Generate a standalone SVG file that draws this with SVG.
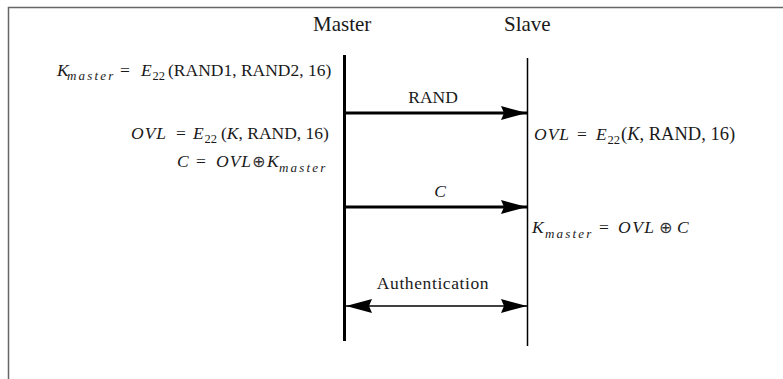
<svg xmlns="http://www.w3.org/2000/svg" width="783" height="379" viewBox="0 0 783 379">
<defs>
<style>
text{font-family:"Liberation Serif","Times New Roman",serif;fill:#1a1a1a}
.t{font-size:17.5px}
.h{font-size:21px}
.i{font-style:italic}
.s{font-size:12.5px}
.ms{font-size:13px;font-style:italic;letter-spacing:2.2px}
.op{font-family:"DejaVu Sans",sans-serif;font-size:16px;fill:#333}
.life{stroke:#000;fill:none}
.msg{stroke:#000;fill:none}
</style>
<marker id="ah" viewBox="0 0 26 14" refX="26" refY="7" markerWidth="26" markerHeight="14" markerUnits="userSpaceOnUse" orient="auto-start-reverse">
<path d="M0,0 L26,7 L0,14 L3,7 Z" fill="#000"/>
</marker>
</defs>
<rect width="783" height="379" fill="#fff"/>
<path d="M8.5,379 V7.5 H783" fill="none" stroke="#666" stroke-width="1.5"/>

<g id="master">
<text class="h" x="313" y="31">Master</text>
<line class="life" x1="344.5" y1="55" x2="344.5" y2="341" stroke-width="3"/>
</g>
<g id="slave">
<text class="h" x="504" y="31">Slave</text>
<line class="life" x1="527.5" y1="58" x2="527.5" y2="346" stroke-width="1.5"/>
</g>

<g id="master-kmaster">
<text class="t" y="76"><tspan class="i" x="57">K</tspan><tspan class="ms" x="67" y="80">master</tspan><tspan x="120" y="76">=</tspan><tspan class="i" x="141">E</tspan><tspan class="s" x="152.5" y="80">22</tspan><tspan x="168" y="76">(RAND1, RAND2, 16)</tspan></text>
</g>
<g id="master-ovl">
<text class="t" y="139"><tspan class="i" x="131" letter-spacing="1">OVL</tspan><tspan x="176">=</tspan><tspan class="i" x="193">E</tspan><tspan class="s" x="204.5" y="143">22</tspan><tspan x="221" y="139">(</tspan><tspan class="i">K</tspan><tspan>, RAND, 16)</tspan></text>
</g>
<g id="master-c">
<text class="t" y="167"><tspan class="i" x="177">C</tspan><tspan x="196">=</tspan><tspan class="i" x="216" letter-spacing="1">OVL</tspan><tspan class="op" x="252">⊕</tspan><tspan class="i" x="267">K</tspan><tspan class="ms" x="279" y="172">master</tspan></text>
</g>
<g id="slave-ovl">
<text class="t" y="140"><tspan class="i" x="534" letter-spacing="1">OVL</tspan><tspan x="577">=</tspan><tspan class="i" x="596">E</tspan><tspan class="s" x="607.5" y="144">22</tspan><tspan x="621" y="140" font-size="18.5">(</tspan><tspan class="i" font-size="18.5">K</tspan><tspan font-size="18.5">, RAND, 16)</tspan></text>
</g>
<g id="slave-kmaster">
<text class="t" y="233"><tspan class="i" x="532">K</tspan><tspan class="ms" x="545" y="238">master</tspan><tspan x="599" y="233">=</tspan><tspan class="i" x="618" letter-spacing="1.5">OVL</tspan><tspan class="op" x="659">⊕</tspan><tspan class="i" x="677">C</tspan></text>
</g>

<g id="connectors">
<line class="msg" x1="344" y1="113" x2="527" y2="113" stroke-width="3" marker-end="url(#ah)"/>
<text class="t" x="433" y="103" text-anchor="middle">RAND</text>
<line class="msg" x1="344" y1="207" x2="527" y2="207" stroke-width="3" marker-end="url(#ah)"/>
<text class="t i" x="440" y="197" text-anchor="middle">C</text>
<line class="msg" x1="346" y1="306" x2="527" y2="306" stroke-width="1.5" marker-start="url(#ah)" marker-end="url(#ah)"/>
<text class="t" x="433" y="289" text-anchor="middle" letter-spacing="0.6">Authentication</text>
</g>
</svg>
